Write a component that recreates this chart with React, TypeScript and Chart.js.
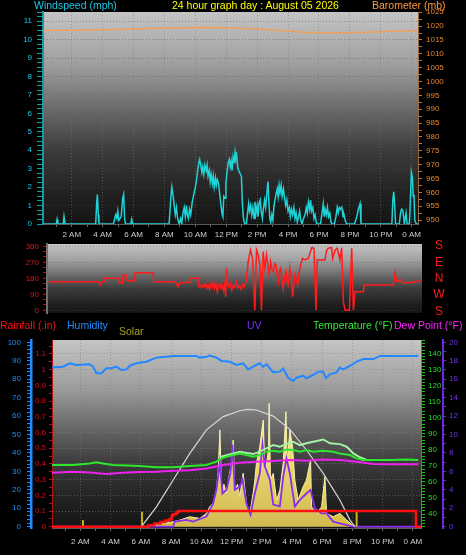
import React, { useEffect, useRef } from 'react';
import { Chart, registerables } from 'chart.js';

Chart.register(...registerables);

const FONT = '"Liberation Sans", Arial, Helvetica, sans-serif';

// ---------------- tick labels ----------------
const HOUR_TICKS = [2, 4, 6, 8, 10, 12, 14, 16, 18, 20, 22, 24];
const HOUR_LABELS = ['2 AM', '4 AM', '6 AM', '8 AM', '10 AM', '12 PM', '2 PM', '4 PM', '6 PM', '8 PM', '10 PM', '0 AM'];
const WIND_TICKS = [0, 1, 2, 3, 4, 5, 6, 7, 8, 9, 10, 11];
const BARO_TICKS = [950, 955, 960, 965, 970, 975, 980, 985, 990, 995, 1000, 1005, 1010, 1015, 1020, 1025];
const DIR_TICKS = [0, 90, 180, 270, 360];
const DIR_LETTERS = ['S', 'E', 'N', 'W', 'S'];
const HUM_TICKS = [0, 10, 20, 30, 40, 50, 60, 70, 80, 90, 100];
const RAIN_TICKS = [0, 0.1, 0.2, 0.3, 0.4, 0.5, 0.6, 0.7, 0.8, 0.9, 1, 1.1];
const TEMP_TICKS = [40, 50, 60, 70, 80, 90, 100, 110, 120, 130, 140];
const UV_TICKS = [0, 2, 4, 6, 8, 10, 12, 14, 16, 18, 20];

// ---------------- series: [hour, value] ----------------
const WIND_SPEED = [
  [0.14, 0], [1.0, 0], [1.05, 0.25], [1.1, 0], [1.45, 0], [1.5, 0.4], [1.57, 0],
  [3.55, 0], [3.62, 1.2], [3.66, 1.6], [3.72, 0.5], [3.76, 0],
  [4.7, 0], [4.78, 0.3], [4.85, 0.5], [4.92, 0.3], [4.98, 0.7], [5.05, 0.2], [5.2, 0.4], [5.3, 1.4], [5.36, 1.6], [5.42, 0.3], [5.48, 0],
  [5.82, 0], [5.88, 0.25], [5.94, 0],
  [8.3, 0], [8.42, 1.5], [8.48, 2.0], [8.55, 1.6], [8.62, 1.1], [8.7, 0.5], [8.78, 0.9], [8.85, 0.3], [8.95, 0], [9.05, 0.3], [9.12, 0],
  [9.2, 0.6], [9.28, 0.9], [9.35, 0.4], [9.42, 1.0], [9.48, 0.5], [9.55, 0.3], [9.62, 0.8], [9.7, 0.5], [9.8, 1.2], [9.9, 1.6],
  [10.0, 2.0], [10.08, 2.4], [10.15, 2.9], [10.22, 3.3], [10.28, 3.5], [10.35, 3.2], [10.42, 2.8], [10.48, 3.1], [10.55, 2.7],
  [10.62, 3.2], [10.7, 2.9], [10.76, 3.2], [10.82, 2.6], [10.9, 2.9], [10.96, 2.3], [11.02, 2.7], [11.1, 2.2], [11.16, 2.6],
  [11.22, 2.0], [11.3, 2.5], [11.36, 2.1], [11.42, 2.4], [11.5, 2.2], [11.58, 1.6], [11.66, 1.0], [11.74, 0.5], [11.78, 0.4],
  [11.84, 1.5], [11.92, 1.4], [11.98, 2.2], [12.05, 2.8], [12.12, 3.3], [12.2, 3.5], [12.26, 3.1], [12.32, 3.4], [12.38, 2.9],
  [12.44, 3.6], [12.5, 3.3], [12.57, 3.9], [12.62, 3.5], [12.68, 3.7], [12.74, 3.1], [12.8, 2.9], [12.86, 2.8], [12.92, 2.7],
  [12.98, 2.6], [13.04, 1.2], [13.1, 0.4], [13.16, 0.1], [13.22, 0],
  [13.3, 0], [13.38, 0.6], [13.45, 1.1], [13.5, 0.7], [13.58, 1.0], [13.65, 0.5], [13.72, 0.9], [13.8, 0.3], [13.86, 1.2],
  [13.93, 0.6], [14.0, 1.0], [14.06, 0.4], [14.12, 1.1], [14.2, 1.3], [14.26, 0.7], [14.34, 0.3], [14.4, 0.8], [14.48, 1.3],
  [14.55, 0.9], [14.62, 1.6], [14.7, 2.3], [14.76, 1.2], [14.82, 0.3], [14.88, 0.1], [14.95, 0.5], [15.02, 0.2], [15.08, 0.9],
  [15.15, 1.3], [15.22, 1.6], [15.3, 1.9], [15.36, 1.5], [15.42, 2.1], [15.48, 1.7], [15.55, 2.1], [15.62, 1.5], [15.7, 1.9],
  [15.78, 1.4], [15.85, 1.0], [15.92, 1.3], [16.0, 0.7], [16.08, 0.9], [16.15, 0.4], [16.22, 0.8], [16.3, 0.5], [16.38, 0.9],
  [16.45, 0.3], [16.52, 0.6], [16.6, 0.1], [16.68, 0.4], [16.75, 0.7], [16.82, 0.2], [16.9, 0],
  [17.0, 0.3], [17.1, 0.5], [17.18, 0.9], [17.25, 0.6], [17.32, 1.2], [17.4, 0.8], [17.46, 1.3], [17.52, 0.7], [17.6, 0.9],
  [17.68, 0.3], [17.75, 0.5], [17.85, 0],
  [18.1, 0], [18.2, 0.6], [18.28, 1.1], [18.34, 0.4], [18.4, 0.8], [18.48, 0.5], [18.55, 0.9], [18.62, 0.4], [18.7, 0.6],
  [18.78, 0.1], [18.85, 0],
  [19.0, 0], [19.1, 0.4], [19.18, 0.9], [19.25, 0.6], [19.32, 0.9], [19.4, 0.8], [19.48, 0.9], [19.56, 0.4], [19.62, 0.5],
  [19.7, 0.2], [19.78, 0],
  [20.3, 0], [20.45, 0.4], [20.55, 0.8], [20.66, 1.1], [20.72, 0],
  [22.72, 0], [22.78, 1.3], [22.84, 1.75], [22.9, 1.0], [22.96, 0],
  [23.2, 0], [23.28, 0.6], [23.34, 0.8], [23.42, 0.75], [23.48, 0.4], [23.52, 0], [23.58, 0.3], [23.64, 0.6], [23.7, 0],
  [23.85, 0], [23.92, 1.4], [23.98, 2.8], [24.05, 2.5], [24.1, 1.5], [24.15, 1.6], [24.2, 0.2], [24.3, 0], [24.41, 0],
];

const BAROMETER = [
  [0.14, 1018.4], [2, 1018.5], [4, 1018.7], [6, 1019.0], [8, 1019.3], [10, 1019.5], [12, 1019.4], [14, 1019.0],
  [15, 1018.6], [16, 1018.2], [17, 1017.8], [18, 1017.6], [19, 1017.5], [20, 1017.6], [21, 1017.8], [22, 1018.0],
  [23, 1018.2], [24.41, 1018.3],
];

const WIND_DIR = [
  [0.3, 161], [3.5, 161], [3.56, 148], [3.62, 142], [3.7, 161], [3.84, 161], [3.88, 180], [4.8, 180], [4.84, 152],
  [4.95, 156], [5.02, 152], [5.06, 199], [5.25, 199], [5.28, 172], [5.4, 163], [5.49, 167], [5.8, 167], [5.84, 212],
  [7.0, 212], [7.05, 161], [8.4, 161], [8.5, 152], [8.62, 133], [8.7, 150], [8.84, 156], [9.34, 156], [9.38, 180],
  [9.92, 180], [9.98, 133], [10.08, 140], [10.16, 128], [10.25, 145], [10.34, 133], [10.42, 150], [10.5, 124],
  [10.58, 140], [10.66, 118], [10.75, 152], [10.84, 130], [10.92, 160], [11.0, 124], [11.08, 145], [11.16, 105],
  [11.24, 138], [11.32, 150], [11.4, 122], [11.48, 140], [11.56, 112], [11.64, 148], [11.7, 77], [11.76, 236],
  [11.82, 160], [11.9, 133], [12.0, 150], [12.1, 115], [12.2, 142], [12.3, 128], [12.4, 160], [12.5, 125], [12.6, 140],
  [12.7, 118], [12.8, 145], [12.9, 130], [13.0, 152], [13.05, 180], [13.16, 274], [13.31, 339], [13.44, 292],
  [13.59, 0], [13.7, 339], [13.81, 311], [13.92, 255], [14.02, 0], [14.13, 330], [14.24, 236], [14.35, 311],
  [14.44, 250], [14.52, 199], [14.61, 274], [14.7, 230], [14.78, 217], [14.88, 262], [14.96, 255], [15.04, 200],
  [15.11, 161], [15.18, 220], [15.26, 236], [15.35, 170], [15.43, 124], [15.52, 190], [15.61, 217], [15.68, 160],
  [15.76, 142], [15.86, 236], [15.95, 180], [16.04, 77], [16.12, 150], [16.19, 199], [16.28, 170], [16.36, 142],
  [16.44, 210], [16.51, 236], [16.6, 270], [16.68, 292], [16.83, 283], [17.05, 292], [17.27, 352], [17.42, 349],
  [17.55, 0], [17.63, 283], [17.81, 283], [18.13, 283], [18.24, 339], [18.35, 349], [18.56, 352], [18.63, 292],
  [18.78, 339], [18.93, 349], [19.1, 283], [19.21, 352], [19.32, 49], [19.43, 0], [19.71, 0], [19.86, 349],
  [19.97, 0], [20.08, 105], [20.62, 105], [20.66, 142], [22.56, 142], [22.67, 212], [22.78, 161], [22.99, 171],
  [23.21, 152], [23.64, 156], [24.07, 161], [24.33, 171],
];

const HUMIDITY = [
  [0.12, 86.4], [0.85, 86.8], [1.29, 88.6], [1.73, 87.7], [2.61, 88.1], [2.84, 86.8], [3.06, 83.2], [3.39, 83.2],
  [3.72, 85.9], [4.05, 85.9], [4.38, 86.8], [4.71, 85.0], [5.05, 85.3], [5.27, 87.3], [5.71, 88.6], [6.37, 89.5],
  [7.03, 91.7], [7.69, 92.2], [8.14, 92.6], [9.68, 92.6], [9.9, 91.7], [10.34, 92.2], [10.56, 92.8], [11.0, 91.7],
  [11.34, 89.9], [11.89, 89.5], [12.33, 87.7], [12.77, 88.6], [13.1, 85.3], [13.43, 86.8], [13.87, 88.6], [14.1, 86.8],
  [14.32, 88.1], [14.54, 85.9], [14.76, 83.7], [15.2, 84.1], [15.42, 85.9], [15.75, 80.8], [16.08, 79.0], [16.3, 80.8],
  [16.74, 81.9], [16.96, 80.5], [17.41, 82.3], [17.74, 84.1], [18.07, 84.1], [18.25, 80.5], [18.51, 82.6], [18.95, 83.7],
  [19.17, 86.3], [19.4, 85.3], [19.62, 86.3], [19.95, 87.7], [20.28, 89.5], [20.72, 90.9], [21.38, 90.9], [21.83, 92.6],
  [24.36, 92.6],
];

const TEMPERATURE = [
  [0.12, 70.5], [1.51, 70.5], [2.61, 71.5], [3.06, 72.2], [3.5, 71.5], [4.16, 70.5], [5.93, 69.9], [7.03, 69.1],
  [8.14, 69.1], [9.24, 69.9], [10.34, 70.5], [11.0, 72.6], [11.34, 74.6], [11.67, 75.7], [12.11, 76.7], [12.55, 77.7],
  [12.99, 76.7], [13.43, 75.7], [13.87, 76.7], [14.32, 78.8], [14.76, 79.4], [15.2, 78.8], [15.64, 80.2], [16.08, 79.8],
  [16.52, 78.8], [16.96, 79.8], [17.41, 78.8], [18.07, 79.4], [18.73, 78.8], [19.17, 77.7], [19.84, 76.7], [20.28, 74.6],
  [20.72, 73.6], [21.38, 73.6], [22.49, 73.6], [23.59, 74.0], [24.36, 73.6],
];

const HEAT_INDEX = [
  [11.23, 75.5], [12.55, 78.8], [13.43, 77.3], [13.87, 78.8], [14.54, 81.9], [14.76, 82.9], [15.2, 81.9], [15.64, 83.5],
  [16.08, 85.0], [16.52, 82.9], [16.96, 84.0], [17.41, 85.0], [18.07, 86.4], [18.51, 84.0], [19.17, 83.5], [19.62, 81.9],
  [20.06, 77.7], [20.5, 75.3], [20.94, 73.6],
];

const DEW_POINT = [
  [0.12, 65.7], [1.51, 66.3], [2.61, 65.9], [3.72, 64.9], [4.82, 65.7], [5.93, 66.1], [7.03, 66.3], [8.14, 66.9],
  [9.24, 67.3], [10.34, 68.4], [11.45, 70.5], [12.55, 71.9], [13.65, 72.6], [14.76, 73.0], [15.86, 73.6], [16.96, 73.2],
  [18.07, 74.0], [19.17, 73.6], [20.28, 72.6], [21.38, 71.1], [22.49, 70.9], [24.36, 70.9],
];

const RAINFALL = [
  [0.12, 0], [6.15, 0], [6.5, 0.01], [6.9, 0.02], [7.3, 0.03], [7.6, 0.04], [7.9, 0.05], [8.05, 0.07], [8.14, 0.08],
  [8.35, 0.09], [8.47, 0.1], [24.14, 0.1], [24.2, 0], [24.54, 0],
];

const SOLAR = [
  [0.12, 0], [6.4, 0], [6.59, 5], [7.25, 15], [8.14, 27], [8.58, 36], [9.24, 54], [9.9, 45], [10.34, 72], [10.56, 108],
  [10.78, 127], [11.0, 199], [11.12, 300], [11.23, 525], [11.34, 199], [11.5, 230], [11.67, 181], [11.85, 280],
  [12.0, 344], [12.11, 470], [12.22, 199], [12.4, 230], [12.55, 163], [12.73, 271], [12.77, 290], [12.99, 127],
  [13.21, 72], [13.43, 181], [13.54, 250], [13.65, 344], [13.87, 434], [14.1, 579], [14.21, 300], [14.32, 344],
  [14.45, 420], [14.49, 669], [14.58, 253], [14.76, 289], [14.98, 145], [15.2, 199], [15.42, 344], [15.6, 624],
  [15.69, 344], [15.86, 525], [16.04, 434], [16.19, 253], [16.41, 145], [16.74, 217], [16.96, 253], [17.23, 362],
  [17.3, 108], [17.63, 72], [17.96, 108], [18.18, 271], [18.29, 72], [18.73, 54], [19.17, 72], [19.62, 36],
  [20.06, 5], [20.2, 0], [24.54, 0],
];

const SOLAR_MAX = [
  [6.04, 0], [7.03, 108], [8.14, 253], [9.24, 398], [10.34, 525], [11.45, 597], [12.55, 629], [13.1, 636],
  [13.65, 633], [14.76, 600], [15.86, 528], [16.96, 416], [18.07, 289], [19.17, 145], [19.84, 36], [20.17, 0],
];

const SUN_MARKERS = [[2.17, 36], [6.08, 81], [20.28, 81]];

const UV_INDEX = [
  [0.12, 0], [8.14, 0], [8.24, 0.55], [9.02, 0.73], [9.46, 0.55], [10.34, 1.1], [10.78, 2.5], [11.0, 4.0], [11.23, 7.0],
  [11.4, 3.6], [11.67, 4.0], [11.93, 5.8], [12.06, 8.9], [12.22, 4.0], [12.55, 4.35], [12.73, 5.1], [12.99, 2.5],
  [13.26, 1.3], [13.54, 3.6], [13.87, 5.8], [14.05, 8.9], [14.21, 6.5], [14.54, 5.1], [14.76, 2.4], [15.2, 2.2],
  [15.42, 5.4], [15.64, 7.4], [15.86, 5.8], [16.19, 2.2], [16.52, 2.9], [16.96, 3.6], [17.23, 4.0], [17.52, 2.0],
  [17.96, 1.45], [18.29, 1.45], [18.73, 0.55], [19.17, 0.36], [20.06, 0], [24.54, 0],
];

// ---------------- helpers ----------------
const pts = (arr: number[][]) => arr.map(([x, y]) => ({ x, y }));

function buildTicks(majors: number[], sub: number, lo: number, hi: number) {
  const step = (majors[1] - majors[0]) / sub;
  const start = majors[0] - Math.floor((majors[0] - lo) / step + 1e-9) * step;
  const out: any[] = [];
  for (let i = 0; i < 1000; i++) {
    const v = +(start + i * step).toFixed(6);
    if (v > hi + 1e-9) break;
    if (v < lo - 1e-9) continue;
    out.push({ value: v, isMajor: majors.some((m) => Math.abs(m - v) < 1e-6) });
  }
  return out;
}

const GRAD_STOPS: [number, string][] = [
  [0, '#c4c4c4'], [0.25, '#9e9e9e'], [0.45, '#6c6c6c'], [0.65, '#3c3c3c'], [0.85, '#222222'], [1, '#141414'],
];

const bgPlugin = {
  id: 'bgGrad',
  beforeDraw(chart: any) {
    const { ctx, chartArea: a } = chart;
    if (!a) return;
    const g = ctx.createLinearGradient(0, a.top, 0, a.bottom);
    GRAD_STOPS.forEach(([p, c]) => g.addColorStop(p, c));
    ctx.save();
    ctx.fillStyle = g;
    ctx.fillRect(a.left, a.top, a.right - a.left, a.bottom - a.top);
    ctx.restore();
  },
};

function yAxis(o: any) {
  return {
    type: 'linear',
    display: true,
    position: o.pos,
    min: o.min,
    max: o.max,
    weight: o.weight ?? 0,
    afterBuildTicks: (s: any) => { s.ticks = buildTicks(o.majors, o.sub, o.min, o.max); },
    afterFit: (s: any) => { s.width = o.width; },
    ticks: {
      autoSkip: false,
      color: o.color,
      font: { family: FONT, size: 8 },
      padding: o.pad ?? 4,
      callback: (_v: any, i: number, ticks: any[]) => {
        const t = ticks[i];
        if (!t || !t.isMajor) return '';
        return o.fmt ? o.fmt(t.value) : String(t.value);
      },
    },
    grid: {
      drawOnChartArea: !!o.grid,
      color: (c: any) => (o.grid && c.tick && c.tick.isMajor ? o.grid : 'rgba(0,0,0,0)'),
      tickColor: o.tickColor,
      tickLength: o.tickLen ?? 4,
      lineWidth: 1,
    },
    border: { display: true, color: o.borderColor, width: o.borderWidth ?? 1, dash: [1, 2] },
  };
}

function hourTicks(min: number, max: number) {
  const out: any[] = [];
  for (let h = Math.ceil(min); h <= Math.floor(max); h++) {
    const idx = HOUR_TICKS.indexOf(h);
    out.push({ value: h, isMajor: idx >= 0, text: idx >= 0 ? HOUR_LABELS[idx] : '' });
  }
  return out;
}

function xAxis(o: any) {
  return {
    type: 'linear',
    display: o.display ?? true,
    position: 'bottom',
    min: o.min,
    max: o.max,
    afterBuildTicks: (s: any) => { s.ticks = hourTicks(o.min, o.max); },
    afterFit: (s: any) => { s.height = o.height; },
    ticks: {
      autoSkip: false,
      maxRotation: 0,
      minRotation: 0,
      color: '#cfcfcf',
      font: { family: FONT, size: 8 },
      padding: o.pad ?? 3,
      callback: (_v: any, i: number, ticks: any[]) => (ticks[i] ? ticks[i].text : ''),
    },
    grid: {
      drawOnChartArea: true,
      color: (c: any) => (c.tick && c.tick.isMajor ? o.grid : 'rgba(0,0,0,0)'),
      tickColor: '#6a6a6a',
      tickLength: 3,
    },
    border: { display: true, color: '#5a5a5a', width: 1, dash: [1, 2] },
  };
}

const line = (data: number[][], color: string, axis: string, width: number, extra: any = {}) => ({
  data: pts(data),
  borderColor: color,
  backgroundColor: color,
  borderWidth: width,
  pointRadius: 0,
  tension: 0,
  fill: false,
  yAxisID: axis,
  ...extra,
});

const baseOptions = (padding: any) => ({
  responsive: false,
  maintainAspectRatio: false,
  animation: false,
  devicePixelRatio: 1,
  events: [],
  layout: { padding },
  plugins: { legend: { display: false }, tooltip: { enabled: false }, title: { display: false } },
});

function makeTop(canvas: HTMLCanvasElement) {
  const X_MIN = 0.14, X_MAX = 24.41;
  return new Chart(canvas, {
    type: 'line',
    data: {
      datasets: [
        line(WIND_SPEED, '#1fd3d6', 'yW', 1.5, { order: 1 }),
        line(BAROMETER, '#f0a05a', 'yB', 1.5, { order: 2 }),
      ],
    },
    options: {
      ...baseOptions({ top: 12, left: 0, right: 0, bottom: 0 }),
      scales: {
        x: xAxis({ min: X_MIN, max: X_MAX, height: 21, grid: 'rgba(120,120,120,0.5)', pad: 3 }),
        yW: yAxis({
          pos: 'left', min: 0, max: 11.5, majors: WIND_TICKS, sub: 4, width: 43, color: '#1ec8e6',
          tickColor: '#12a0a8', borderColor: '#129ca4', borderWidth: 2, tickLen: 6, pad: 5,
          grid: 'rgba(80,80,80,0.45)',
        }),
        yB: yAxis({
          pos: 'right', min: 948.6, max: 1025.1, majors: BARO_TICKS, sub: 2, width: 48, color: '#e8842c',
          tickColor: '#c87424', borderColor: '#9a6a3a', borderWidth: 1, tickLen: 4, pad: 4,
        }),
      },
    } as any,
    plugins: [bgPlugin],
  } as any);
}

function makeMid(canvas: HTMLCanvasElement) {
  return new Chart(canvas, {
    type: 'line',
    data: { datasets: [line(WIND_DIR, '#ff1c1c', 'yD', 1.5)] },
    options: {
      ...baseOptions({ top: 9, left: 0, right: 44, bottom: 9 }),
      scales: {
        x: { type: 'linear', display: false, min: 0.14, max: 24.41 },
        yD: yAxis({
          pos: 'left', min: -15, max: 373, majors: DIR_TICKS, sub: 3, width: 47, color: '#e01414',
          tickColor: '#c01010', borderColor: '#707070', borderWidth: 2, tickLen: 4, pad: 4,
          grid: 'rgba(80,80,80,0.45)',
        }),
      },
    } as any,
    plugins: [bgPlugin],
  } as any);
}

const solarFill = (ctx: any) => {
  const a = ctx.chart.chartArea;
  if (!a) return 'rgba(228,212,90,1)';
  const g = ctx.chart.ctx.createLinearGradient(0, a.top + 60, 0, a.bottom);
  g.addColorStop(0, 'rgba(250,244,170,1)');
  g.addColorStop(0.5, 'rgba(236,220,100,1)');
  g.addColorStop(1, 'rgba(212,190,60,1)');
  return g;
};

function makeBottom(canvas: HTMLCanvasElement) {
  const X_MIN = 0.12, X_MAX = 24.54;
  const markerSets = SUN_MARKERS.map(([h, v]) =>
    line([[h, 0], [h, v]], '#c8b414', 'yS', 2, { order: 7 }));
  return new Chart(canvas, {
    type: 'line',
    data: {
      datasets: [
        line(RAINFALL, '#ff1010', 'yR', 2.5, { order: 1, stepped: true }),
        line(TEMPERATURE, '#2ee62e', 'yT', 2, { order: 2 }),
        line(HEAT_INDEX, '#a4f0a4', 'yT', 2, { order: 3 }),
        line(DEW_POINT, '#ee22ee', 'yT', 2, { order: 4 }),
        line(HUMIDITY, '#2288ff', 'yH', 2, { order: 5 }),
        line(SOLAR_MAX, '#d8d8d8', 'yS', 1.2, { order: 6 }),
        ...markerSets,
        line(UV_INDEX, '#8a2cf0', 'yU', 1.8, { order: 8, fill: 'origin', backgroundColor: 'rgba(200,160,255,0.1)' }),
        line(SOLAR, '#f8f2b0', 'yS', 1, { order: 9, fill: 'origin', backgroundColor: solarFill }),
      ],
    },
    options: {
      ...baseOptions({ top: 20, left: 0, right: 0, bottom: 0 }),
      scales: {
        x: xAxis({ min: X_MIN, max: X_MAX, height: 27, grid: 'rgba(120,120,120,0.5)', pad: 6 }),
        yH: yAxis({
          pos: 'left', weight: 2, min: -0.7, max: 101.25, majors: HUM_TICKS, sub: 5, width: 31, color: '#1e8cff',
          tickColor: '#1e8cff', borderColor: '#1e8cff', borderWidth: 2.5, tickLen: 4, pad: 6,
        }),
        yR: yAxis({
          pos: 'left', weight: 1, min: -0.008, max: 1.189, majors: RAIN_TICKS, sub: 2, width: 21, color: '#d81010',
          tickColor: '#c01010', borderColor: '#b01010', borderWidth: 1, tickLen: 3, pad: 3,
          fmt: (v: number) => String(+v.toFixed(1)), grid: 'rgba(125,125,125,0.55)',
        }),
        yT: yAxis({
          pos: 'right', weight: 1, min: 31.3, max: 148.3, majors: TEMP_TICKS, sub: 5, width: 22, color: '#22dd22',
          tickColor: '#1cb81c', borderColor: '#30a030', borderWidth: 1, tickLen: 4, pad: 3,
        }),
        yU: yAxis({
          pos: 'right', weight: 2, min: -0.14, max: 20.25, majors: UV_TICKS, sub: 2, width: 23, color: '#7030f0',
          tickColor: '#6a28e0', borderColor: '#6a28e0', borderWidth: 2, tickLen: 3, pad: 3,
        }),
        yS: { type: 'linear', display: false, min: -7, max: 1012.5 },
      },
    } as any,
    plugins: [bgPlugin],
  } as any);
}

const txt = (s: string, left: number, top: number, color: string, size = 10.5) => (
  <div
    key={s + left + top}
    style={{
      position: 'absolute', left, top, color, fontSize: size, lineHeight: `${size}px`,
      fontFamily: FONT, whiteSpace: 'nowrap', zIndex: 5,
    }}
  >
    {s}
  </div>
);

export default function App() {
  const refA = useRef<HTMLCanvasElement>(null);
  const refB = useRef<HTMLCanvasElement>(null);
  const refC = useRef<HTMLCanvasElement>(null);

  useEffect(() => {
    const charts = [makeTop(refA.current!), makeMid(refB.current!), makeBottom(refC.current!)];
    return () => charts.forEach((c) => c.destroy());
  }, []);

  const dirLetterTops = [239, 256, 272, 288, 305];

  return (
    <div style={{ position: 'absolute', left: 0, top: 0, width: 466, height: 555, background: '#000', overflow: 'hidden' }}>
      <canvas ref={refA} width={466} height={245} style={{ position: 'absolute', left: 0, top: 0, width: 466, height: 245 }} />
      <canvas ref={refB} width={466} height={87} style={{ position: 'absolute', left: 0, top: 235, width: 466, height: 87 }} />
      <canvas ref={refC} width={466} height={235} style={{ position: 'absolute', left: 0, top: 320, width: 466, height: 235 }} />

      {txt('Windspeed (mph)', 34, 0, '#1ec8e6')}
      {txt('24 hour graph day : August 05 2026', 172, 0, '#ffff00')}
      {txt('Barometer (mb)', 372, 0, '#ff9a40')}

      {DIR_LETTERS.map((l, i) => (
        <div key={'d' + i} style={{
          position: 'absolute', left: 429, top: dirLetterTops[i], width: 20, textAlign: 'center',
          color: '#ff1a1a', fontSize: 12, lineHeight: '12px', fontFamily: FONT, zIndex: 5,
        }}>{l}</div>
      ))}

      {txt('Rainfall (.in)', 0, 320, '#ff1010')}
      {txt('Humidity', 67, 320, '#1e8cff')}
      {txt('Solar', 119, 326, '#a8a020')}
      {txt('UV', 247, 320, '#7a28ff')}
      {txt('Temperature (°F)', 313, 320, '#33ee33')}
      {txt('Dew Point (°F)', 394, 320, '#ff22ff')}
    </div>
  );
}
